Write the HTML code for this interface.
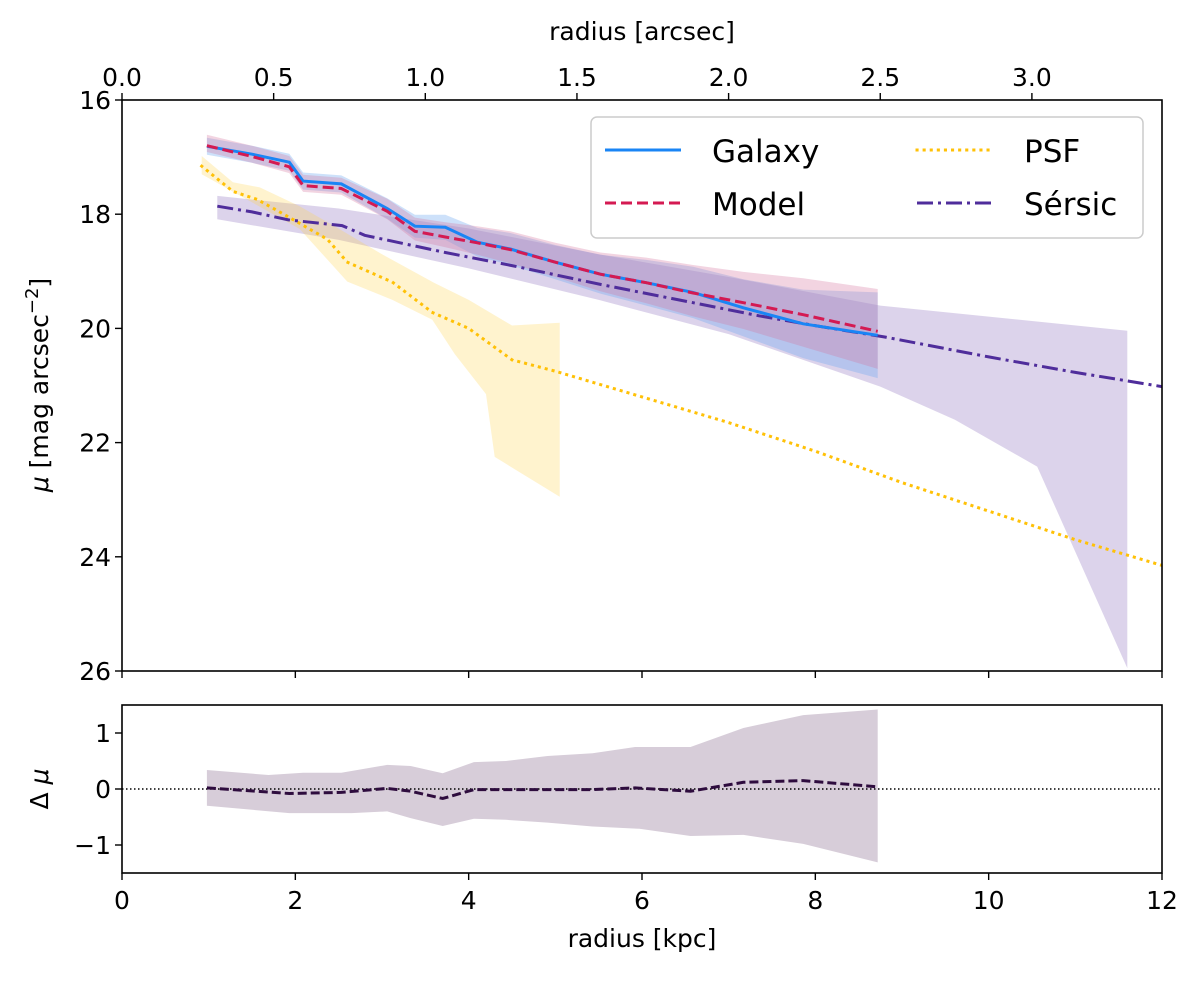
<!DOCTYPE html>
<html><head><meta charset="utf-8"><style>
html,body{margin:0;padding:0;background:#fff;}
svg text{font-family:"DejaVu Sans","Liberation Sans",sans-serif;fill:#000;}
</style></head><body>
<svg id="chart" width="1200" height="980" viewBox="0 0 1200 980" xmlns="http://www.w3.org/2000/svg"></svg>
<script>
// ---- data ----
const radii = [0.98,1.5,1.93,2.09,2.53,3.06,3.38,3.73,4.1,4.48,5.0,5.52,6.05,6.59,7.17,7.86,8.72];
const galaxyMu = [16.81,16.95,17.09,17.42,17.47,17.9,18.21,18.23,18.49,18.61,18.84,19.05,19.2,19.37,19.64,19.92,20.12];
const galaxyErr = [0.15,0.15,0.15,0.15,0.15,0.18,0.2,0.22,0.25,0.28,0.3,0.34,0.4,0.45,0.5,0.6,0.75];
const modelMu = [16.8,16.99,17.17,17.5,17.55,17.95,18.3,18.4,18.5,18.62,18.84,19.05,19.2,19.38,19.55,19.76,20.05];
const modelErr = [0.15,0.15,0.15,0.15,0.15,0.18,0.2,0.22,0.25,0.28,0.3,0.34,0.4,0.45,0.5,0.6,0.7];
const sersicR = [1.1,1.5,1.92,2.54,2.8,3.73,4.5,5.52,6.59,7.35,8.07,8.8,10,11,12];
const sersicMu = [17.86,17.96,18.1,18.2,18.37,18.67,18.9,19.23,19.55,19.78,19.97,20.15,20.5,20.77,21.02];
const sersicBandR = [1.1,2.5,4,5.5,7,8.75,11.6];
const sersicBandUp = [17.68,17.9,18.25,18.7,19.1,19.6,20.04];
const sersicBandLoR = [1.1,2.5,4,5.5,7,8.75,9.61,10.56,11.6];
const sersicBandLo = [18.09,18.45,18.95,19.5,20.1,21.02,21.6,22.42,25.95];
const psfR = [0.92,1.28,1.56,1.9,2.37,2.6,3.12,3.58,4.0,4.5,5.0,6,7,8,9,10,11,12];
const psfMu = [17.16,17.6,17.74,18.03,18.44,18.84,19.19,19.72,20.0,20.55,20.75,21.2,21.65,22.15,22.7,23.2,23.7,24.15];
const psfBandUpR = [0.92,1.28,1.59,2.05,2.52,3.0,3.6,4.0,4.5,5.05];
const psfBandUp = [16.98,17.44,17.53,17.86,18.27,18.7,19.2,19.5,19.95,19.9];
const psfBandLoR = [0.92,2.05,2.6,3.12,3.58,3.84,4.2,4.3,5.05];
const psfBandLo = [17.3,18.26,19.18,19.5,19.85,20.45,21.15,22.25,22.95];
const resR = [0.98,1.93,2.53,3.06,3.33,3.7,4.06,5.43,5.92,6.56,7.17,7.86,8.72];
const resVal = [0.02,-0.08,-0.06,0.01,-0.04,-0.17,-0.01,-0.01,0.02,-0.04,0.12,0.15,0.04];
const resBandR = [0.98,1.69,2.09,2.53,3.06,3.33,3.7,4.06,4.43,4.91,5.43,5.92,6.56,7.17,7.86,8.72];
const resUp = [0.34,0.25,0.29,0.29,0.43,0.41,0.28,0.48,0.5,0.59,0.64,0.75,0.75,1.09,1.32,1.42];
const resLoR = [0.98,1.93,2.65,3.06,3.33,3.7,4.06,4.43,4.91,5.43,5.97,6.56,7.17,7.86,8.72];
const resLo = [-0.30,-0.43,-0.43,-0.40,-0.52,-0.66,-0.53,-0.55,-0.6,-0.67,-0.71,-0.84,-0.82,-0.98,-1.31];
const xTicks = [0,2,4,6,8,10,12];
const yTicks = [16,18,20,22,24,26];
const resTicks = [1,0,-1];
const arcTicks = [0.0,0.5,1.0,1.5,2.0,2.5,3.0];

// ---- axes ----
const L=122,R=1162,T1=100,B1=671,T2=705,B2=873;
const X=r=>L+(r-0)/(12-0)*(R-L);
const Y=m=>T1+(m-16)/(26-16)*(B1-T1);
const YR=v=>789-v*56;
const XA=a=>L+a*303.3;
const svg=document.getElementById('chart');
const NS='http://www.w3.org/2000/svg';
function mk(tag,attrs,parent){const e=document.createElementNS(NS,tag);for(const k in attrs)e.setAttribute(k,attrs[k]);(parent||svg).appendChild(e);return e;}
function pts(xs,ys,fx,fy){return xs.map((x,i)=>fx(x).toFixed(1)+','+fy(ys[i]).toFixed(1));}
function band(xu,yu,xl,yl,fy){return pts(xu,yu,X,fy).concat(pts(xl,yl,X,fy).reverse()).join(' ');}

const clip=mk('clipPath',{id:'c1'});mk('rect',{x:L,y:T1,width:R-L,height:B1-T1},clip);
const g1=mk('g',{'clip-path':'url(#c1)'});

let e;
e=mk('polygon',{points:band(sersicBandR,sersicBandUp,sersicBandLoR,sersicBandLo,Y),fill:'#b9a8d8','fill-opacity':0.5},g1);


e=mk('polygon',{points:band(psfBandUpR,psfBandUp,psfBandLoR,psfBandLo,Y),fill:'#ffd54f','fill-opacity':0.28},g1);


e=mk('polygon',{points:band(radii,galaxyMu.map((m,i)=>m-galaxyErr[i]),radii,galaxyMu.map((m,i)=>m+galaxyErr[i]),Y),fill:'#6fa8f0','fill-opacity':0.35},g1);


e=mk('polygon',{points:band(radii,modelMu.map((m,i)=>m-modelErr[i]-0.04),radii,modelMu.map((m,i)=>m+modelErr[i]-0.04),Y),fill:'#d4709a','fill-opacity':0.3},g1);



e=mk('polyline',{points:pts(psfR,psfMu,X,Y).join(' '),fill:'none',stroke:'#ffc107','stroke-width':3,'stroke-dasharray':'0.1 7','stroke-linecap':'square'},g1);


e=mk('polyline',{points:pts(sersicR,sersicMu,X,Y).join(' '),fill:'none',stroke:'#4f2d9b','stroke-width':3,'stroke-dasharray':'16 5 3 5'},g1);


e=mk('polyline',{points:pts(radii,galaxyMu,X,Y).join(' '),fill:'none',stroke:'#1a85f5','stroke-width':3},g1);


e=mk('polyline',{points:pts(radii,modelMu,X,Y).join(' '),fill:'none',stroke:'#d41a52','stroke-width':3,'stroke-dasharray':'11 5'},g1);



// main frame
e=mk('rect',{x:L,y:T1,width:R-L,height:B1-T1,fill:'none',stroke:'#000','stroke-width':1.6});


yTicks.forEach(v=>{const y=Y(v);mk('line',{x1:L-7,x2:L,y1:y,y2:y,stroke:'#000','stroke-width':1.4});
 const t=mk('text',{x:L-11,y:y+9,'font-size':25,'text-anchor':'end'});t.textContent=v;
 
 });
xTicks.forEach(v=>{const x=X(v);mk('line',{x1:x,x2:x,y1:B1,y2:B1+7,stroke:'#000','stroke-width':1.4});});
arcTicks.forEach(v=>{const x=XA(v);mk('line',{x1:x,x2:x,y1:T1-7,y2:T1,stroke:'#000','stroke-width':1.4});
 const t=mk('text',{x:x,y:T1-14,'font-size':25,'text-anchor':'middle'});t.textContent=v.toFixed(1);
 
 });
e=mk('text',{x:642,y:40,'font-size':25,'text-anchor':'middle'});e.textContent='radius [arcsec]';


e=mk('text',{x:0,y:0,'font-size':25,'text-anchor':'middle',transform:'translate(48,385) rotate(-90)'});
e.innerHTML='<tspan font-style="italic">μ</tspan> [mag arcsec<tspan dy="-10" font-size="18">−2</tspan><tspan dy="10">]</tspan>';



// legend
const lg=mk('g',{});


mk('rect',{x:591,y:117,width:552,height:121,rx:6,fill:'#fff','fill-opacity':0.85,stroke:'#ccc','stroke-width':1.5},lg);
const legItems=[['Galaxy',605,150,'#1a85f5','none'],['Model',605,203,'#d41a52','11 5'],['PSF',917,150,'#ffc107','0.1 7'],['Sérsic',917,203,'#4f2d9b','16 5 3 5']];
legItems.forEach(it=>{const gi=mk('g',{},lg);
 
 
 const a={x1:it[1],x2:it[1]+76,y1:it[2],y2:it[2],stroke:it[3],'stroke-width':3};
 if(it[4]!=='none'){a['stroke-dasharray']=it[4];}
 if(it[0]==='PSF')a['stroke-linecap']='square';
 mk('line',a,gi);
 const t=mk('text',{x:it[1]+107,y:it[2]+12,'font-size':31},gi);t.textContent=it[0];});

// residual panel
const clip2=mk('clipPath',{id:'c2'});mk('rect',{x:L,y:T2,width:R-L,height:B2-T2},clip2);
const g2=mk('g',{'clip-path':'url(#c2)'});
e=mk('polygon',{points:band(resBandR,resUp,resLoR,resLo,YR),fill:'#d7cdd9'},g2);


e=mk('line',{x1:L,x2:R,y1:YR(0),y2:YR(0),stroke:'#000','stroke-width':1.5,'stroke-dasharray':'1.5 2.5'},g2);


e=mk('polyline',{points:pts(resR,resVal,X,YR).join(' '),fill:'none',stroke:'#2e0c3e','stroke-width':3,'stroke-dasharray':'9 4'},g2);


e=mk('rect',{x:L,y:T2,width:R-L,height:B2-T2,fill:'none',stroke:'#000','stroke-width':1.6});


resTicks.forEach(v=>{const y=YR(v);mk('line',{x1:L-7,x2:L,y1:y,y2:y,stroke:'#000','stroke-width':1.4});
 const t=mk('text',{x:L-11,y:y+9,'font-size':25,'text-anchor':'end'});t.textContent=v<0?'−'+(-v):v;
 
 });
xTicks.forEach(v=>{const x=X(v);mk('line',{x1:x,x2:x,y1:B2,y2:B2+7,stroke:'#000','stroke-width':1.4});
 const t=mk('text',{x:x,y:B2+36,'font-size':25,'text-anchor':'middle'});t.textContent=v;
 
 });
e=mk('text',{x:642,y:947,'font-size':25,'text-anchor':'middle'});e.textContent='radius [kpc]';


e=mk('text',{x:0,y:0,'font-size':25,'text-anchor':'middle',transform:'translate(48,789) rotate(-90)'});
e.innerHTML='Δ <tspan font-style="italic">μ</tspan>';


</script>
</body></html>
